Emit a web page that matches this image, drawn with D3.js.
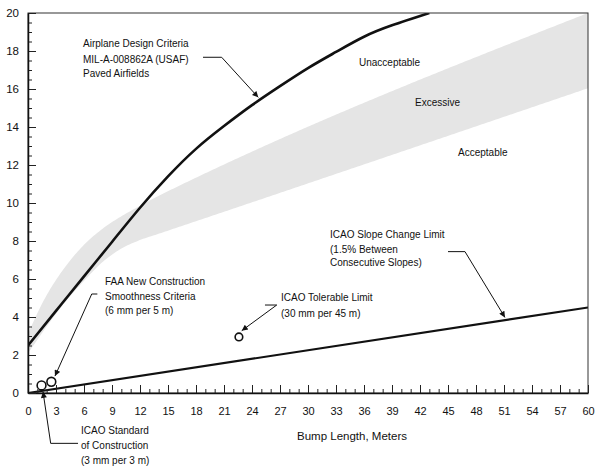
<!DOCTYPE html>
<html>
<head>
<meta charset="utf-8">
<script src="https://cdn.jsdelivr.net/npm/d3@7"></script>
<style>
  html, body { margin: 0; padding: 0; background: #fff; }
  svg { display: block; font-family: "Liberation Sans", Arial, sans-serif; }
</style>
</head>
<body>
<svg id="chart" width="600" height="472"></svg>
<script>
// ---- data ----
const xTicks = [0,3,6,9,12,15,18,21,24,27,30,33,36,39,42,45,48,51,54,57,60];
const yTicks = [0,2,4,6,8,10,12,14,16,18,20];

// Airplane Design Criteria MIL-A-008862A curve
const designX = [0,3,6,9,12,15,18,21,24,27,30,33,36,39,43];
const designY = [2.5,4.32,6.14,7.95,9.75,11.4,12.85,14.05,15.15,16.15,17.1,17.95,18.75,19.35,20];

// Excessive band (upper = Unacceptable boundary, lower = Acceptable boundary)
const bandUpperX = [0,1,2,3,4,6,8,10,12,14,16,60];
const bandUpperY = [3.1,4.2,5.15,5.95,6.65,7.8,8.65,9.3,9.85,10.38,10.86,20];
const bandLowerX = [0,1,2,4,6,8,10,12,14,60];
const bandLowerY = [2.1,2.8,3.5,4.8,5.9,6.9,7.6,8.05,8.38,16.04];

// ICAO Slope Change Limit line
const slopeX = [0,60];
const slopeY = [0,4.5];

// Point criteria (bump length, height)
const pointNames = ["ICAO Standard of Construction","FAA New Construction","ICAO Tolerable Limit"];
const pointX = [1.45, 2.5, 22.6];
const pointY = [0.4, 0.59, 2.95];
const pointR = [4.4, 4.4, 3.8];

// ---- layout ----
const W = 600, H = 472;
const m = {left: 28, right: 12, top: 13, bottom: 79};
const svg = d3.select("#chart");
const x = d3.scaleLinear().domain([0,60]).range([m.left, W - m.right]);
const y = d3.scaleLinear().domain([0,20]).range([H - m.bottom, m.top]);

const defs = svg.append("defs");
defs.append("clipPath").attr("id","clip").append("rect")
  .attr("x", x(0)).attr("y", y(20)).attr("width", x(60)-x(0)).attr("height", y(0)-y(20));
defs.append("marker").attr("id","arrow").attr("viewBox","0 0 10 10")
  .attr("refX",10).attr("refY",5).attr("markerWidth",8).attr("markerHeight",6)
  .attr("markerUnits","userSpaceOnUse").attr("orient","auto")
  .append("path").attr("d","M0,0 L10,5 L0,10 Z").attr("fill","#111");

const plot = svg.append("g").attr("clip-path","url(#clip)");

// band (area between two monotone curves, sampled from rendered paths)
const upperPts = bandUpperX.map((d,i)=>[d,bandUpperY[i]]);
const lowerPts = bandLowerX.map((d,i)=>[d,bandLowerY[i]]);
const bandLine = d3.line().x(d=>x(d[0])).y(d=>y(d[1])).curve(d3.curveMonotoneX);
const tmp = svg.append("g").attr("visibility","hidden");
function samplePath(pts){
  const p = tmp.append("path").attr("d", bandLine(pts)).node();
  const L = p.getTotalLength(); const out=[];
  for(let i=0;i<=300;i++){ const q=p.getPointAtLength(L*i/300); out.push([q.x,q.y]); }
  return out;
}
const upS = samplePath(upperPts);
const loS = samplePath(lowerPts);
const poly = upS.concat(loS.reverse());
plot.append("path").attr("d", "M" + poly.map(p=>p.join(",")).join("L") + "Z")
  .attr("fill","#e5e5e5").attr("stroke","none");
tmp.remove();

// slope change line
plot.append("path")
  .attr("d", d3.line().x(d=>x(d[0])).y(d=>y(d[1]))(slopeX.map((d,i)=>[d,slopeY[i]])))
  .attr("fill","none").attr("stroke","#111").attr("stroke-width",2.2);

// design curve
plot.append("path")
  .attr("d", d3.line().x(d=>x(d[0])).y(d=>y(d[1])).curve(d3.curveNatural)(designX.map((d,i)=>[d,designY[i]])))
  .attr("fill","none").attr("stroke","#111").attr("stroke-width",2.6);

// axes frame
svg.append("rect").attr("x", x(0)).attr("y", y(20)).attr("width", x(60)-x(0)).attr("height", y(0)-y(20))
  .attr("fill","none").attr("stroke","#333").attr("stroke-width",1);

// x axis (inward ticks)
const xMinor = d3.range(0,61,1);
const gx = svg.append("g").attr("transform",`translate(0,${y(0)})`);
gx.append("g").call(d3.axisTop(x).tickValues(xMinor).tickSize(4).tickFormat(""))
  .call(g=>g.select(".domain").remove()).selectAll("line").attr("stroke","#222");
gx.append("g").call(d3.axisTop(x).tickValues(xTicks).tickSize(8).tickFormat(""))
  .call(g=>g.select(".domain").remove()).selectAll("line").attr("stroke","#222");
gx.append("g").call(d3.axisBottom(x).tickValues(xTicks).tickSize(0).tickPadding(14).tickFormat(d3.format("d")))
  .call(g=>g.select(".domain").attr("stroke","#111").attr("stroke-width",1.5))
  .selectAll("text").attr("font-size","11px").attr("fill","#111").attr("font-family","Liberation Sans, Arial, sans-serif");

// y axis
const yMinor = d3.range(0,20.01,0.5);
const gy = svg.append("g").attr("transform",`translate(${x(0)},0)`);
gy.append("g").call(d3.axisRight(y).tickValues(yMinor).tickSize(4).tickFormat(""))
  .call(g=>g.select(".domain").remove()).selectAll("line").attr("stroke","#222");
gy.append("g").call(d3.axisRight(y).tickValues(yTicks).tickSize(8).tickFormat(""))
  .call(g=>g.select(".domain").remove()).selectAll("line").attr("stroke","#222");
gy.append("g").call(d3.axisLeft(y).tickValues(yTicks).tickSize(0).tickPadding(9).tickFormat(d3.format("d")))
  .call(g=>g.select(".domain").attr("stroke","#111").attr("stroke-width",1.5))
  .selectAll("text").attr("font-size","11.5px").attr("fill","#111").attr("font-family","Liberation Sans, Arial, sans-serif");

// axis title
svg.append("text").attr("x", 352).attr("y", 440).attr("text-anchor","middle")
  .attr("font-size","11.5px").attr("fill","#111").text("Bump Length, Meters");

// points
svg.selectAll("circle.pt").data(pointX).join("circle").attr("class","pt")
  .attr("cx",(d)=>x(d)).attr("cy",(d,i)=>y(pointY[i])).attr("r",(d,i)=>pointR[i])
  .attr("fill","#fff").attr("stroke","#111").attr("stroke-width",1.6);

// leaders (data units)
const leaders = [
  [[18.75,17.67],[20.75,17.67],[24.67,15.56]],
  [[45.0,7.44],[46.82,7.44],[51.1,3.98]],
  [[25.39,4.63],[26.65,4.63],[22.9,3.28]],
  [[7.43,5.21],[6.83,5.21],[2.89,0.89]],
  [[5.36,-2.65],[2.43,-2.65],[1.61,0.06]]
];
leaders.forEach(pts=>{
  svg.append("path").attr("d", d3.line().x(d=>x(d[0])).y(d=>y(d[1]))(pts))
    .attr("fill","none").attr("stroke","#111").attr("stroke-width",1)
    .attr("marker-end","url(#arrow)");
});

// text annotations
const notes = [
  {x:83, lines:["Airplane Design Criteria","MIL-A-008862A (USAF)","Paved Airfields"], y:[47,62.5,77]},
  {x:359, lines:["Unacceptable"], y:[65.5]},
  {x:415, lines:["Excessive"], y:[106]},
  {x:458, lines:["Acceptable"], y:[155.5]},
  {x:330, lines:["ICAO Slope Change Limit","(1.5% Between","Consecutive Slopes)"], y:[238,253,265.5]},
  {x:281, lines:["ICAO Tolerable Limit","(30 mm per 45 m)"], y:[300.5,317]},
  {x:105, lines:["FAA New Construction","Smoothness Criteria","(6 mm per 5 m)"], y:[284.5,299.5,313.5]},
  {x:81, lines:["ICAO Standard","of Construction","(3 mm per 3 m)"], y:[434,449,464]}
];
notes.forEach(n=>{
  n.lines.forEach((t,i)=>{
    svg.append("text").attr("x", n.x).attr("y", n.y[i]).attr("font-size","10px")
      .attr("fill","#111").text(t);
  });
});
</script>
</body>
</html>
